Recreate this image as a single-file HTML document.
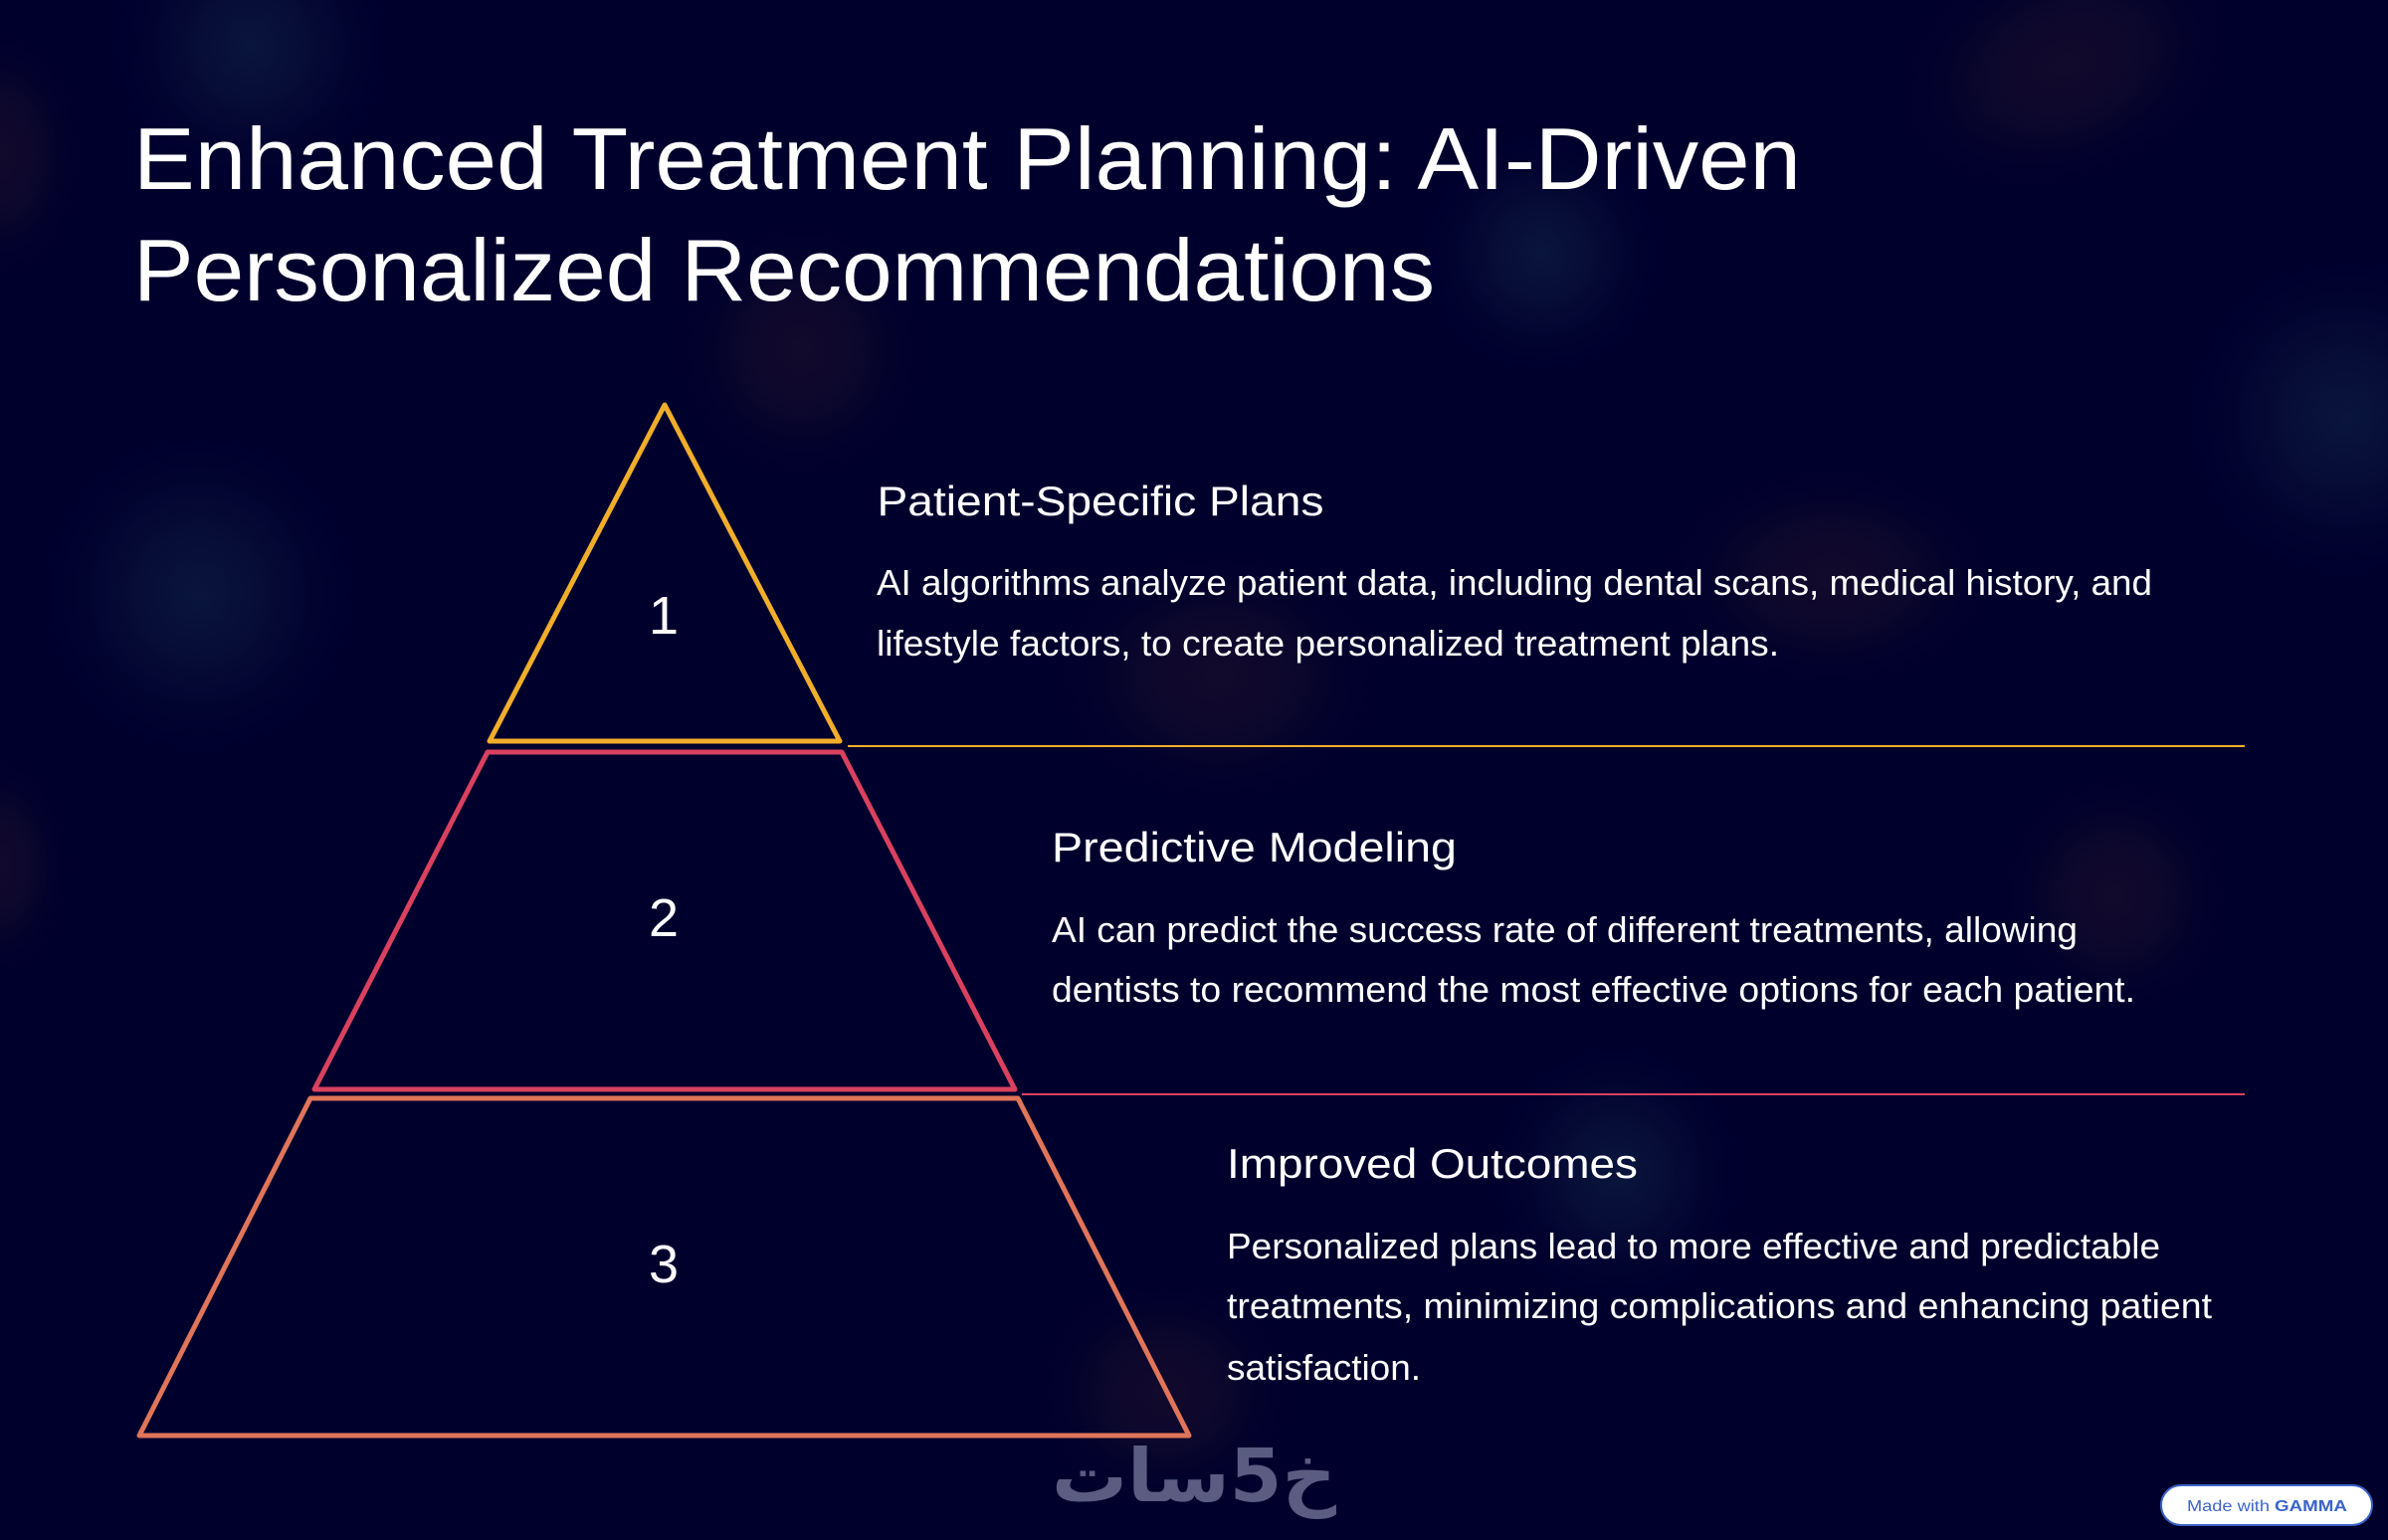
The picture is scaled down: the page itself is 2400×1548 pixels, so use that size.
<!DOCTYPE html>
<html lang="en"><head><meta charset="utf-8"><title>Enhanced Treatment Planning</title>
<style>html,body{margin:0;padding:0;background:#00002d}svg{display:block}
text{font-family:"Liberation Sans",sans-serif;fill:#fff}</style></head><body>
<svg xmlns="http://www.w3.org/2000/svg" width="2400" height="1548" viewBox="0 0 2400 1548">
<defs>
<radialGradient id="b"><stop offset="0" stop-color="#0a153c"/><stop offset=".35" stop-color="#08113a" stop-opacity=".8"/><stop offset=".7" stop-color="#050a34" stop-opacity=".35"/><stop offset="1" stop-color="#00002d" stop-opacity="0"/></radialGradient>
<radialGradient id="r"><stop offset="0" stop-color="#120a2c"/><stop offset=".4" stop-color="#10092c" stop-opacity=".8"/><stop offset=".7" stop-color="#09052c" stop-opacity=".35"/><stop offset="1" stop-color="#00002d" stop-opacity="0"/></radialGradient>
</defs>
<rect width="2400" height="1548" fill="#00002d"/>
<ellipse cx="252" cy="46" rx="150" ry="150" fill="url(#b)"/>
<ellipse cx="200" cy="597" rx="170" ry="175" fill="url(#b)"/>
<ellipse cx="2357" cy="420" rx="170" ry="175" fill="url(#b)"/>
<ellipse cx="1550" cy="255" rx="130" ry="130" fill="url(#b)"/>
<ellipse cx="1625" cy="1180" rx="135" ry="140" fill="url(#b)"/>
<ellipse cx="2075" cy="65" rx="190" ry="130" fill="url(#r)" transform="rotate(-20 2075 65)"/>
<ellipse cx="805" cy="352" rx="135" ry="140" fill="url(#r)"/>
<ellipse cx="1225" cy="680" rx="180" ry="140" fill="url(#r)"/>
<ellipse cx="1840" cy="580" rx="180" ry="120" fill="url(#r)"/>
<ellipse cx="2125" cy="900" rx="125" ry="130" fill="url(#r)"/>
<ellipse cx="0" cy="155" rx="90" ry="135" fill="url(#r)"/>
<ellipse cx="0" cy="870" rx="75" ry="120" fill="url(#r)"/>
<ellipse cx="1170" cy="1400" rx="140" ry="125" fill="url(#r)"/>

<text x="134" y="190" font-size="88" textLength="1676" lengthAdjust="spacingAndGlyphs">Enhanced Treatment Planning: AI-Driven</text>
<text x="134" y="302" font-size="88" textLength="1308" lengthAdjust="spacingAndGlyphs">Personalized Recommendations</text>

<g fill="none" stroke-width="5" stroke-linejoin="round">
<path d="M668 407 L492 745 L844 745 Z" stroke="#f0ae2a"/>
<path d="M490 756 L846 756 L1020 1095 L316 1095 Z" stroke="#d9415f"/>
<path d="M312 1104 L1023 1104 L1195 1443 L140 1443 Z" stroke="#e07559"/>
</g>
<rect x="852" y="749" width="1404" height="2" fill="#f0ae2a"/>
<rect x="1027" y="1099" width="1229" height="2" fill="#d9415f"/>

<g font-size="54" text-anchor="middle">
<text x="667" y="637">1</text>
<text x="667" y="941">2</text>
<text x="667" y="1289">3</text>
</g>

<g font-size="42">
<text x="881.5" y="518" textLength="449" lengthAdjust="spacingAndGlyphs">Patient-Specific Plans</text>
<text x="1057" y="866" textLength="407" lengthAdjust="spacingAndGlyphs">Predictive Modeling</text>
<text x="1233" y="1184" textLength="413" lengthAdjust="spacingAndGlyphs">Improved Outcomes</text>
</g>
<g font-size="36">
<text x="881" y="598" textLength="1282" lengthAdjust="spacingAndGlyphs">AI algorithms analyze patient data, including dental scans, medical history, and</text>
<text x="881" y="659" textLength="907" lengthAdjust="spacingAndGlyphs">lifestyle factors, to create personalized treatment plans.</text>
<text x="1057" y="947" textLength="1031" lengthAdjust="spacingAndGlyphs">AI can predict the success rate of different treatments, allowing</text>
<text x="1057" y="1007" textLength="1089" lengthAdjust="spacingAndGlyphs">dentists to recommend the most effective options for each patient.</text>
<text x="1233" y="1265" textLength="938" lengthAdjust="spacingAndGlyphs">Personalized plans lead to more effective and predictable</text>
<text x="1233" y="1325" textLength="990" lengthAdjust="spacingAndGlyphs">treatments, minimizing complications and enhancing patient</text>
<text x="1233" y="1387" textLength="195" lengthAdjust="spacingAndGlyphs">satisfaction.</text>
</g>

<text x="1343" y="1509" font-size="74" font-weight="700" textLength="286" lengthAdjust="spacingAndGlyphs" direction="rtl" style="font-family:'DejaVu Sans',sans-serif;fill:#5b5c82">&#1582;5&#1587;&#1575;&#1578;</text>

<rect x="2172" y="1493" width="212" height="40" rx="20" fill="#fff" stroke="#3b64c8" stroke-width="2"/>
<text x="2198" y="1519" font-size="16" textLength="83" lengthAdjust="spacingAndGlyphs" style="fill:#3b64c8">Made with</text>
<text x="2286" y="1519" font-size="16" font-weight="700" textLength="73" lengthAdjust="spacingAndGlyphs" style="fill:#3b64c8">GAMMA</text>
</svg>
</body></html>
